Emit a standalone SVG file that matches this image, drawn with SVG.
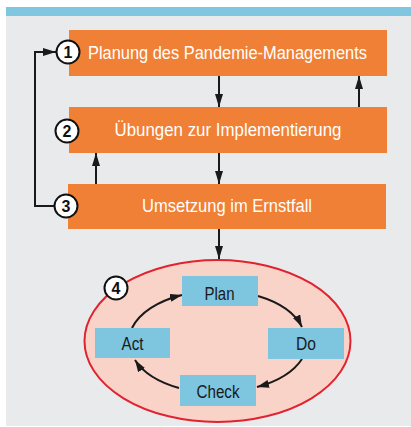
<svg xmlns="http://www.w3.org/2000/svg" width="411" height="427" viewBox="0 0 411 427">
<defs>
<style>
.box{fill:#F08035;}
.pbox{fill:#7EC5E0;}
.wt{font-family:"Liberation Sans",Arial,sans-serif;font-size:17.5px;fill:#ffffff;text-anchor:middle;}
.dt{font-family:"Liberation Sans",Arial,sans-serif;font-size:17.5px;fill:#1a1a1a;text-anchor:middle;}
.num{fill:#ffffff;stroke:#111111;stroke-width:2;}
.nt{font-family:"Liberation Sans",Arial,sans-serif;font-size:16px;font-weight:bold;fill:#111111;text-anchor:middle;}
.ln{fill:none;stroke:#1a1a1a;stroke-width:2;}
</style>
<marker id="ah" viewBox="0 0 13 8" refX="13" refY="4" markerWidth="13" markerHeight="8" markerUnits="userSpaceOnUse" orient="auto">
<path d="M0,0 L13,4 L0,8 z" fill="#1a1a1a"/>
</marker>
<marker id="ah2" viewBox="0 0 12 8" refX="12" refY="4" markerWidth="12" markerHeight="8" markerUnits="userSpaceOnUse" orient="auto">
<path d="M0,0 L12,4 L0,8 z" fill="#1a1a1a"/>
</marker>
</defs>
<rect x="0" y="0" width="411" height="427" fill="#ffffff"/>
<rect x="6" y="16" width="405" height="410" fill="#E9EAEC"/>
<rect x="6" y="7" width="405" height="9" fill="#7FC6E0"/>

<g id="cycle-ellipse">
<ellipse cx="217.5" cy="341" rx="133" ry="81" fill="#F9D3C8" stroke="#E1222F" stroke-width="2"/>
</g>

<g id="connectors">
<line class="ln" x1="219" y1="76" x2="219" y2="107" marker-end="url(#ah)"/>
<line class="ln" x1="359" y1="107" x2="359" y2="76" marker-end="url(#ah)"/>
<line class="ln" x1="219" y1="153" x2="219" y2="184" marker-end="url(#ah)"/>
<line class="ln" x1="96" y1="184" x2="96" y2="153" marker-end="url(#ah)"/>
<line class="ln" x1="219" y1="229" x2="219" y2="259" marker-end="url(#ah)"/>
<path class="ln" d="M54,206 L35,206 L35,52 L56,52" marker-end="url(#ah)"/>
<path class="ln" d="M258,296 A87,51 0 0,1 302,327" marker-end="url(#ah2)"/>
<path class="ln" d="M302,359 A87,51 0 0,1 257,387" marker-end="url(#ah2)"/>
<path class="ln" d="M179,388 A87,51 0 0,1 135,360" marker-end="url(#ah2)"/>
<path class="ln" d="M132,328 A87,51 0 0,1 182,295" marker-end="url(#ah2)"/>
</g>

<g id="node1">
<rect class="box" x="69" y="30" width="318" height="46"/>
<text class="wt" x="227.5" y="58.5" textLength="279" lengthAdjust="spacingAndGlyphs">Planung des Pandemie-Managements</text>
<circle class="num" cx="68" cy="52" r="11.5"/>
<text class="nt" x="68" y="57.5">1</text>
</g>

<g id="node2">
<rect class="box" x="69" y="107" width="318" height="46"/>
<text class="wt" x="228" y="135.5" textLength="227" lengthAdjust="spacingAndGlyphs">Übungen zur Implementierung</text>
<circle class="num" cx="67" cy="131" r="11.5"/>
<text class="nt" x="67" y="136.5">2</text>
</g>

<g id="node3">
<rect class="box" x="68" y="184" width="318" height="45"/>
<text class="wt" x="227" y="211.5" textLength="170" lengthAdjust="spacingAndGlyphs">Umsetzung im Ernstfall</text>
<circle class="num" cx="66" cy="206" r="11.5"/>
<text class="nt" x="66" y="211.5">3</text>
</g>

<g id="node4">
<circle class="num" cx="116" cy="288" r="11.5"/>
<text class="nt" x="116" y="293.5">4</text>
</g>

<g id="plan">
<rect class="pbox" x="182" y="276" width="76" height="30"/>
<text class="dt" x="219.5" y="299.5" textLength="30" lengthAdjust="spacingAndGlyphs">Plan</text>
</g>
<g id="do">
<rect class="pbox" x="268" y="328" width="76" height="31"/>
<text class="dt" x="306" y="349.5" textLength="20" lengthAdjust="spacingAndGlyphs">Do</text>
</g>
<g id="check">
<rect class="pbox" x="180" y="375" width="76" height="31"/>
<text class="dt" x="218" y="398" textLength="43" lengthAdjust="spacingAndGlyphs">Check</text>
</g>
<g id="act">
<rect class="pbox" x="95" y="328" width="75" height="30"/>
<text class="dt" x="132.5" y="349.5" textLength="22" lengthAdjust="spacingAndGlyphs">Act</text>
</g>
</svg>
